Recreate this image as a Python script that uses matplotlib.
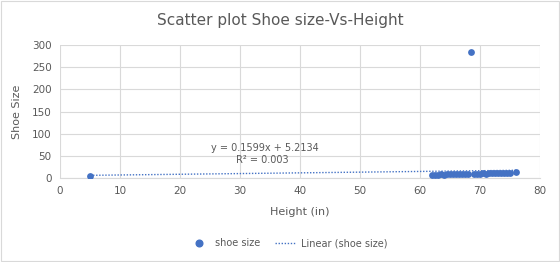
import matplotlib
matplotlib.use("Agg")
import matplotlib.pyplot as plt
from matplotlib.lines import Line2D
from matplotlib.patches import Rectangle

height = [5, 62, 62.5, 63, 63.5, 64, 64.5, 65, 65.5, 66, 66.5, 67, 67.5, 68, 68.5,
          69, 69.5, 70, 70.5, 71, 71.5, 72, 72.5, 73, 73.5, 74, 74.5, 75, 76]
shoe = [5, 7, 7, 7.5, 8, 7.5, 8, 8.5, 8, 9, 8.5, 9, 9.5, 9, 285,
        10, 9.5, 10, 10.5, 10, 11, 10.5, 11, 11.5, 11, 12, 11.5, 12, 13]
slope, intercept = 0.1599, 5.2134
eq_text = "y = 0.1599x + 5.2134"
r2_text = "R² = 0.003"
xticks = [0, 10, 20, 30, 40, 50, 60, 70, 80]
yticks = [0, 50, 100, 150, 200, 250, 300]

blue = "#4472C4"
grey = "#595959"

fig = plt.figure(figsize=(5.6, 2.62), dpi=100)
fig.patches.append(Rectangle((0.002, 0.004), 0.996, 0.992, transform=fig.transFigure,
                             fill=False, edgecolor="#d9d9d9", linewidth=0.8))
ax = fig.add_axes([60/560, 1-178/262, 480/560, 133/262])
ax.scatter(height, shoe, s=24, color=blue, zorder=3, linewidths=0)
xmin, xmax = min(height), max(height)
ax.plot([xmin, xmax], [slope*xmin+intercept, slope*xmax+intercept], linestyle=(0, (1, 1.2)),
        color=blue, linewidth=1.0, zorder=2)
ax.set_xlim(0, 80)
ax.set_ylim(0, 300)
ax.set_xticks(xticks)
ax.set_yticks(yticks)
ax.grid(True, color="#d9d9d9", linewidth=0.8)
ax.set_axisbelow(True)
for s in ["top", "right", "left"]:
    ax.spines[s].set_visible(False)
ax.spines["bottom"].set_color("#d9d9d9")
ax.tick_params(length=0, labelsize=7.5, colors=grey, pad=6)
ax.set_xlabel("Height (in)", fontsize=8, color=grey, labelpad=8)
ax.set_ylabel("Shoe Size", fontsize=8, color=grey, labelpad=7)
fig.text(0.5, 1-20/262, "Scatter plot Shoe size-Vs-Height", ha="center", va="center",
         fontsize=11, color=grey)
ax.text(265/560, 1-148/262, eq_text, transform=fig.transFigure, ha="center", va="center",
        fontsize=7, color=grey)
ax.text(262/560, 1-160/262, r2_text, transform=fig.transFigure, ha="center", va="center",
        fontsize=7, color=grey)

handles = [Line2D([], [], marker="o", linestyle="none", color=blue, markersize=4.8),
           Line2D([], [], linestyle=(0, (1, 1.2)), color=blue, linewidth=1.0)]
fig.legend(handles, ["shoe size", "Linear (shoe size)"], loc="center",
           bbox_to_anchor=(288/560, 1-243/262), ncol=2, frameon=False, fontsize=7,
           labelcolor=grey, handlelength=2.2, columnspacing=1.5, handletextpad=0.5)
fig.savefig("out.png", dpi=100)
